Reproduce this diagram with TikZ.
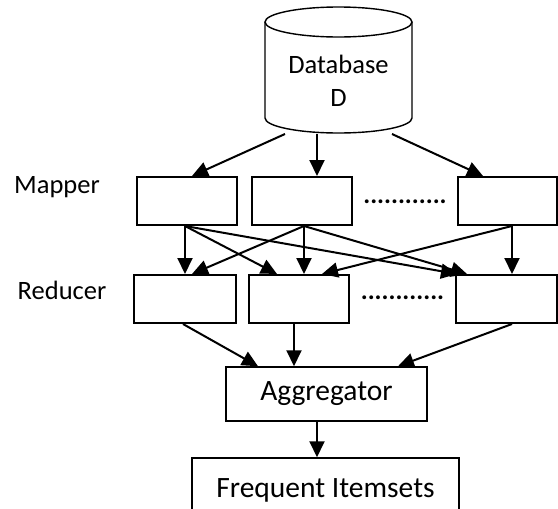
\documentclass[tikz,border=0pt]{standalone}
\usepackage{fontspec}
\setmainfont{Carlito}
\usetikzlibrary{arrows.meta}

\begin{document}
\begin{tikzpicture}[x=1pt, y=-1pt, line width=2pt,
    every node/.style={font=\fontsize{26.5}{33}\selectfont},
    box/.style={draw, rectangle, minimum width=100pt, minimum height=48pt, inner sep=0pt},
    outbox/.style={draw, line width=1.5pt, font=\fontsize{29.5}{35}\selectfont},
    arr/.style={-{Triangle[length=16pt,width=15pt]}},
    dots/.style={font=\fontsize{26}{33}\selectfont\bfseries, inner sep=0pt}]
  \clip (0,0) rectangle (558,509);
  % database
  \draw[line width=1.4pt] (338.5,22) ellipse [x radius=73.5, y radius=15];
  \draw[line width=1.4pt] (265,22) -- (265,118) arc [start angle=180, end angle=0, x radius=73.5, y radius=15] -- (412,22);
  \node[minimum width=147pt, minimum height=104pt, inner sep=0pt, align=center] (db) at (338.5,81) {Database\\D};
  % mapper row
  \node (mlbl) at (57,187) {Mapper};
  \node[box] (m1) at (187,201) {};
  \node[box] (m2) at (302,201) {};
  \node[dots] (mdots) at (405,202) {............};
  \node[box, minimum width=99pt] (m3) at (507.5,201) {};
  % reducer row
  \node (rlbl) at (62,290) {Reducer};
  \node[box, minimum width=102pt] (r1) at (185,299) {};
  \node[box] (r2) at (299,299) {};
  \node[dots] (rdots) at (402.5,298) {............};
  \node[box, minimum width=101pt] (r3) at (506.5,299) {};
  % output
  \node[outbox, minimum width=201pt, minimum height=54pt] (agg) at (326.5,394) {Aggregator};
  \node[outbox, minimum width=267pt, minimum height=64pt] (fi) at (325.5,490) {Frequent Itemsets};

  \draw[arr] ([xshift=-53.5pt]db.south) -- ([xshift=5pt]m1.north);
  \draw[arr] ([xshift=-21.5pt]db.south) -- ([xshift=15pt]m2.north);
  \draw[arr] ([xshift=53.5pt]db.south) -- ([xshift=-24.5pt]m3.north);

  \draw[arr] ([xshift=-2pt]m1.south) -- (r1.north);
  \draw[arr] ([xshift=-2pt]m1.south) -- ([xshift=-22pt]r2.north);
  \draw[arr] ([xshift=-2pt]m1.south) -- ([xshift=-49.5pt]r3.north);
  \draw[arr] ([xshift=2pt]m2.south) -- ([xshift=7pt]r1.north);
  \draw[arr] ([xshift=2pt]m2.south) -- ([xshift=5pt]r2.north);
  \draw[arr] ([xshift=2pt]m2.south) -- ([xshift=-39.5pt]r3.north);
  \draw[arr] ([xshift=4.5pt]m3.south) -- ([xshift=23pt]r2.north);
  \draw[arr] ([xshift=4.5pt]m3.south) -- ([xshift=5.5pt]r3.north);

  \draw[arr] ([xshift=-2pt]r1.south) -- ([xshift=-68.5pt]agg.north);
  \draw[arr] ([xshift=-5pt]r2.south) -- ([xshift=-32.5pt]agg.north);
  \draw[arr] ([xshift=5.5pt]r3.south) -- ([xshift=71.5pt]agg.north);
  \draw[arr] ([xshift=-9.5pt]agg.south) -- ([xshift=-8.5pt]fi.north);
\end{tikzpicture}
\end{document}
